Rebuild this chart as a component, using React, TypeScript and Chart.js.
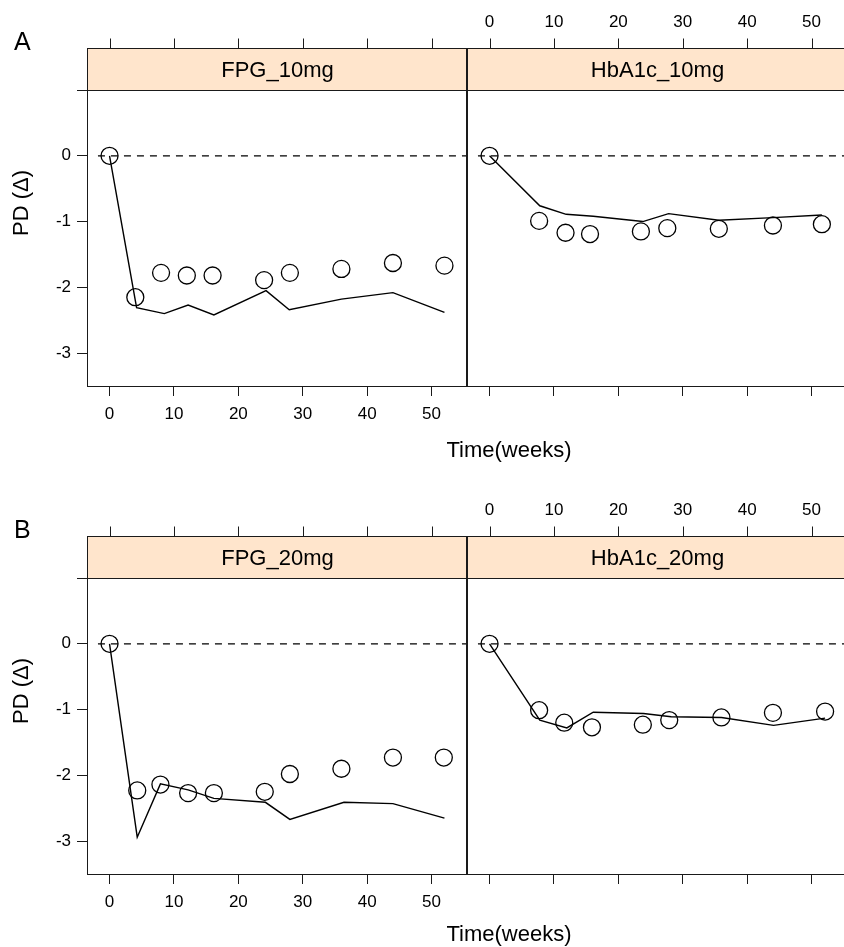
import React, { useEffect, useRef } from 'react';
import { Chart, registerables } from 'chart.js';

Chart.register(...registerables);

const FONT = '"Liberation Sans", Arial, Helvetica, sans-serif';

// Axes
const X_TICKS = [0, 10, 20, 30, 40, 50];
const Y_TICKS = [-3, -2, -1, 0, 1];
const X_MIN = -3.5;
const X_MAX = 55.5;
const Y_MIN = -3.5;
const Y_MAX = 1;
const REF_X = [-1.8, 55.5];
const REF_Y = [0, 0];

// FPG 10 mg
const FPG10_OBS_T = [0, 4, 8, 12, 16, 24, 28, 36, 44, 52];
const FPG10_OBS = [0, -2.15, -1.78, -1.82, -1.82, -1.89, -1.78, -1.72, -1.63, -1.67];
const FPG10_PRED_T = [0, 4.2, 8.5, 12.2, 16.2, 24.3, 27.9, 36, 44, 52];
const FPG10_PRED = [0, -2.31, -2.4, -2.27, -2.42, -2.05, -2.34, -2.18, -2.08, -2.38];

// HbA1c 10 mg
const HBA10_OBS_T = [0, 7.7, 11.8, 15.6, 23.5, 27.6, 35.6, 44, 51.6];
const HBA10_OBS = [0, -0.99, -1.17, -1.19, -1.15, -1.1, -1.11, -1.06, -1.04];
const HBA10_PRED_T = [0, 7.8, 11.9, 16.1, 23.8, 27.8, 35.6, 44, 51.6];
const HBA10_PRED = [0, -0.76, -0.89, -0.92, -1.0, -0.88, -0.98, -0.94, -0.9];

// FPG 20 mg
const FPG20_OBS_T = [0, 4.3, 7.9, 12.2, 16.2, 24.1, 28, 36, 44, 51.9];
const FPG20_OBS = [0, -2.23, -2.14, -2.27, -2.27, -2.25, -1.98, -1.9, -1.73, -1.73];
const FPG20_PRED_T = [0, 4.3, 7.9, 12.2, 16.2, 24.2, 28, 36.4, 44, 52];
const FPG20_PRED = [0, -2.94, -2.13, -2.22, -2.35, -2.41, -2.67, -2.41, -2.43, -2.65];

// HbA1c 20 mg
const HBA20_OBS_T = [0, 7.7, 11.6, 15.9, 23.8, 27.9, 36, 44, 52.1];
const HBA20_OBS = [0, -1.01, -1.2, -1.27, -1.23, -1.16, -1.12, -1.05, -1.03];
const HBA20_PRED_T = [0, 7.8, 12, 16.1, 23.9, 28.2, 36, 44.1, 52.1];
const HBA20_PRED = [0, -1.16, -1.28, -1.04, -1.06, -1.11, -1.12, -1.24, -1.13];

const STRIP_COLOR = '#FFE5CC';
const LINE_COLOR = '#000000';
const BOX_COLOR = '#1a1a1a';

const toXY = (t: number[], v: number[]) => t.map((x, i) => ({ x, y: v[i] }));

type Side = 'left' | 'right';

function makePlugin(title: string, side: Side) {
  return {
    id: 'lattice_' + side,
    afterDraw(chart: any) {
      const { ctx, chartArea: a, scales } = chart;
      const xs = scales.x;
      const L = Math.round(a.left) + 0.5;
      const R = Math.round(a.right) + 0.5;
      const T = Math.round(a.top) + 0.5;
      const B = Math.round(a.bottom) + 0.5;
      const stripTop = T - 42;
      ctx.save();
      ctx.fillStyle = STRIP_COLOR;
      ctx.fillRect(L, stripTop, R - L, T - stripTop);
      ctx.strokeStyle = BOX_COLOR;
      ctx.lineWidth = 1;
      ctx.strokeRect(L, stripTop, R - L, T - stripTop);
      ctx.strokeRect(L, T, R - L, B - T);
      if (side === 'right') {
        // shared divider between the two panels is drawn a little heavier
        ctx.beginPath();
        ctx.moveTo(L - 1, stripTop);
        ctx.lineTo(L - 1, B);
        ctx.stroke();
      }
      ctx.fillStyle = '#000';
      ctx.font = `22px ${FONT}`;
      ctx.textAlign = 'center';
      ctx.textBaseline = 'middle';
      ctx.fillText(title, (L + R) / 2, (stripTop + T) / 2 + 1);
      ctx.beginPath();
      X_TICKS.forEach((v) => {
        const px = Math.round(xs.getPixelForValue(v)) + 0.5;
        ctx.moveTo(px, stripTop - 10);
        ctx.lineTo(px, stripTop);
      });
      ctx.stroke();
      if (side === 'right') {
        ctx.font = `17px ${FONT}`;
        X_TICKS.forEach((v) => {
          ctx.fillText(String(v), xs.getPixelForValue(v), stripTop - 26);
        });
      }
      ctx.restore();
    },
  };
}

type PanelDef = {
  title: string;
  side: Side;
  obsT: number[];
  obs: number[];
  predT: number[];
  pred: number[];
};

function Panel({ def, top }: { def: PanelDef; top: number }) {
  const ref = useRef<HTMLCanvasElement>(null);
  const isLeft = def.side === 'left';
  const left = isLeft ? 0 : 460;
  const width = isLeft ? 470 : 390;
  const height = 440;

  useEffect(() => {
    const canvas = ref.current!;
    const chart = new Chart(canvas, {
      type: 'scatter',
      data: {
        datasets: [
          {
            data: toXY(REF_X, REF_Y),
            showLine: true,
            borderColor: LINE_COLOR,
            borderWidth: 1.2,
            borderDash: [7, 6],
            pointRadius: 0,
            pointHoverRadius: 0,
          },
          {
            data: toXY(def.predT, def.pred),
            showLine: true,
            borderColor: LINE_COLOR,
            borderWidth: 1.4,
            pointRadius: 0,
            pointHoverRadius: 0,
            tension: 0,
          },
          {
            data: toXY(def.obsT, def.obs),
            showLine: false,
            borderColor: LINE_COLOR,
            backgroundColor: 'rgba(0,0,0,0)',
            pointRadius: 8.5,
            pointHoverRadius: 8.5,
            pointBorderWidth: 1.3,
            pointStyle: 'circle',
          },
        ],
      },
      options: {
        responsive: false,
        maintainAspectRatio: false,
        devicePixelRatio: 1,
        animation: false,
        events: [],
        layout: {
          autoPadding: false,
          padding: { left: isLeft ? 0 : 7, right: 3, top: 90, bottom: 0 },
        },
        plugins: {
          legend: { display: false },
          tooltip: { enabled: false },
          title: { display: false },
        },
        scales: {
          x: {
            type: 'linear',
            position: 'bottom',
            min: X_MIN,
            max: X_MAX,
            afterBuildTicks: (s: any) => {
              s.ticks = X_TICKS.map((v) => ({ value: v }));
            },
            afterFit: (s: any) => {
              s.height = 54;
              s.paddingLeft = 0;
              s.paddingRight = 0;
              s.paddingTop = 0;
              s.paddingBottom = 0;
            },
            border: { display: false },
            grid: {
              drawOnChartArea: false,
              drawTicks: true,
              tickLength: 10,
              color: BOX_COLOR,
              lineWidth: 1,
            },
            ticks: {
              autoSkip: false,
              maxRotation: 0,
              padding: 8,
              color: '#000',
              font: { family: FONT, size: 17 },
              callback: (v: any) => (isLeft ? String(v) : ''),
            },
          },
          y: {
            type: 'linear',
            display: isLeft,
            min: Y_MIN,
            max: Y_MAX,
            afterBuildTicks: (s: any) => {
              s.ticks = Y_TICKS.map((v) => ({ value: v }));
            },
            afterFit: (s: any) => {
              s.width = isLeft ? 87 : 0;
              s.paddingLeft = 0;
              s.paddingRight = 0;
              s.paddingTop = 0;
              s.paddingBottom = 0;
            },
            border: { display: false },
            grid: {
              drawOnChartArea: false,
              drawTicks: true,
              tickLength: 10,
              color: BOX_COLOR,
              lineWidth: 1,
            },
            ticks: {
              padding: 6,
              color: '#000',
              font: { family: FONT, size: 17 },
              callback: (v: any) => (v === Y_MAX ? '' : String(v)),
            },
          },
        },
      },
      plugins: [makePlugin(def.title, def.side)],
    } as any);
    return () => chart.destroy();
  }, []);

  return (
    <canvas
      ref={ref}
      width={width}
      height={height}
      style={{ position: 'absolute', left, top, width, height }}
    />
  );
}

const FIGURES: { letter: string; top: number; xlabTop: number; panels: PanelDef[] }[] = [
  {
    letter: 'A',
    top: 0,
    xlabTop: 439,
    panels: [
      { title: 'FPG_10mg', side: 'left', obsT: FPG10_OBS_T, obs: FPG10_OBS, predT: FPG10_PRED_T, pred: FPG10_PRED },
      { title: 'HbA1c_10mg', side: 'right', obsT: HBA10_OBS_T, obs: HBA10_OBS, predT: HBA10_PRED_T, pred: HBA10_PRED },
    ],
  },
  {
    letter: 'B',
    top: 488,
    xlabTop: 923 - 488,
    panels: [
      { title: 'FPG_20mg', side: 'left', obsT: FPG20_OBS_T, obs: FPG20_OBS, predT: FPG20_PRED_T, pred: FPG20_PRED },
      { title: 'HbA1c_20mg', side: 'right', obsT: HBA20_OBS_T, obs: HBA20_OBS, predT: HBA20_PRED_T, pred: HBA20_PRED },
    ],
  },
];

export default function App() {
  return (
    <div
      style={{
        position: 'absolute',
        left: 0,
        top: 0,
        width: 844,
        height: 947,
        overflow: 'hidden',
        background: '#fff',
        fontFamily: FONT,
        color: '#000',
      }}
    >
      {FIGURES.map((f) => (
        <React.Fragment key={f.letter}>
          {f.panels.map((p) => (
            <Panel key={p.title} def={p} top={f.top} />
          ))}
          <div
            style={{
              position: 'absolute',
              left: 14,
              top: f.top + 29,
              fontSize: 25,
              lineHeight: '25px',
            }}
          >
            {f.letter}
          </div>
          <div
            style={{
              position: 'absolute',
              left: 20.5,
              top: f.top + 203,
              fontSize: 22,
              lineHeight: '22px',
              whiteSpace: 'nowrap',
              transform: 'translate(-50%, -50%) rotate(-90deg)',
            }}
          >
            PD (Δ)
          </div>
          <div
            style={{
              position: 'absolute',
              left: 509,
              top: f.top + f.xlabTop,
              fontSize: 22,
              lineHeight: '22px',
              whiteSpace: 'nowrap',
              transform: 'translateX(-50%)',
            }}
          >
            Time(weeks)
          </div>
        </React.Fragment>
      ))}
    </div>
  );
}
